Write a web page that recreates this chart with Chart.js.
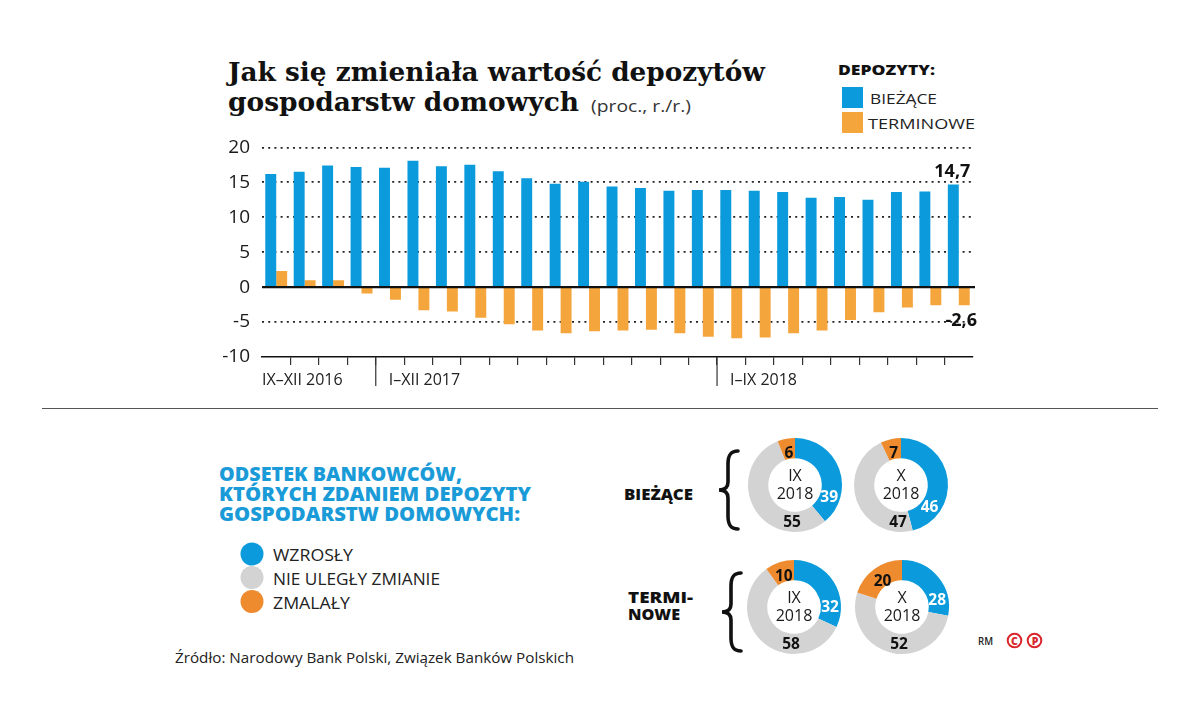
<!DOCTYPE html>
<html lang="pl">
<head>
<meta charset="utf-8">
<script src="https://cdn.jsdelivr.net/npm/chart.js@4.4.1/dist/chart.umd.min.js"></script>
<style>
html,body{margin:0;padding:0;background:#fff;}
#page{position:relative;width:1200px;height:718px;overflow:hidden;background:#fff;}
#page svg{position:absolute;left:0;top:0;}
canvas{position:absolute;}
</style>
</head>
<body>
<div id="page">
<svg width="1200" height="718" xmlns="http://www.w3.org/2000/svg">
  <g fill="#111">
    <text x="228" y="81" font-family="DejaVu Serif" font-weight="700" font-size="25.5" textLength="537" lengthAdjust="spacingAndGlyphs">Jak się zmieniała wartość depozytów</text>
    <text x="228" y="111" font-family="DejaVu Serif" font-weight="700" font-size="25.5" textLength="351" lengthAdjust="spacingAndGlyphs">gospodarstw domowych</text>
    <text x="591" y="112" font-family="Open Sans" font-size="17" fill="#333" textLength="100" lengthAdjust="spacingAndGlyphs">(proc., r./r.)</text>

    <text x="838" y="75" font-family="Open Sans" font-weight="800" font-size="14.5" textLength="97" lengthAdjust="spacingAndGlyphs">DEPOZYTY:</text>
    <rect x="842" y="87" width="21" height="21" fill="#0b9bdc"/>
    <rect x="842" y="112" width="21" height="21" fill="#f4a53c"/>
    <text x="870" y="104" font-family="Open Sans" font-size="15" fill="#222" textLength="67" lengthAdjust="spacingAndGlyphs">BIEŻĄCE</text>
    <text x="868" y="129" font-family="Open Sans" font-size="15" fill="#222" textLength="107" lengthAdjust="spacingAndGlyphs">TERMINOWE</text>
  </g>

  <line x1="42" y1="408.5" x2="1158" y2="408.5" stroke="#555" stroke-width="1"/>

  <g fill="#1a9bd8" font-family="Open Sans" font-weight="800" font-size="19.5">
    <text x="219" y="481" textLength="243" lengthAdjust="spacingAndGlyphs">ODSETEK BANKOWCÓW,</text>
    <text x="219" y="501" textLength="312" lengthAdjust="spacingAndGlyphs">KTÓRYCH ZDANIEM DEPOZYTY</text>
    <text x="219" y="521" textLength="301" lengthAdjust="spacingAndGlyphs">GOSPODARSTW DOMOWYCH:</text>
  </g>

  <circle cx="252" cy="554" r="11.5" fill="#0b9bdc"/>
  <circle cx="252" cy="577.5" r="11.5" fill="#d3d3d3"/>
  <circle cx="252" cy="601.5" r="11.5" fill="#ee8b2e"/>
  <g fill="#222" font-family="Open Sans" font-size="16">
    <text x="273" y="561" textLength="80" lengthAdjust="spacingAndGlyphs">WZROSŁY</text>
    <text x="273" y="585" textLength="167" lengthAdjust="spacingAndGlyphs">NIE ULEGŁY ZMIANIE</text>
    <text x="273" y="608.5" textLength="77" lengthAdjust="spacingAndGlyphs">ZMALAŁY</text>
  </g>

  <text x="175" y="663" font-family="Open Sans" font-size="15" fill="#222" textLength="399" lengthAdjust="spacingAndGlyphs">Źródło: Narodowy Bank Polski, Związek Banków Polskich</text>

  <g fill="#111" font-family="Open Sans" font-weight="800" font-size="15">
    <text x="624" y="500" textLength="69" lengthAdjust="spacingAndGlyphs">BIEŻĄCE</text>
    <text x="628" y="603" textLength="65" lengthAdjust="spacingAndGlyphs">TERMI-</text>
    <text x="628" y="620" textLength="52" lengthAdjust="spacingAndGlyphs">NOWE</text>
  </g>

  <g fill="none" stroke="#111" stroke-width="3.6" stroke-linecap="round">
    <path d="M 738 451 C 730 451, 728 456, 728 464 L 728 482 C 728 487, 725 490, 719 490 C 725 490, 728 493, 728 498 L 728 516 C 728 524, 730 529, 738 529"/>
    <path d="M 741 573 C 733 573, 731 578, 731 586 L 731 604 C 731 609, 728 612, 722 612 C 728 612, 731 615, 731 620 L 731 638 C 731 646, 733 651, 741 651"/>
  </g>

  <text x="978" y="645" font-family="Open Sans" font-weight="600" font-size="10.5" fill="#222" textLength="15" lengthAdjust="spacingAndGlyphs">RM</text>
  <circle cx="1014.5" cy="640.5" r="6.8" fill="none" stroke="#d9252b" stroke-width="2"/>
  <text x="1014.5" y="644.5" text-anchor="middle" font-family="Open Sans" font-weight="800" font-size="10.5" fill="#d9252b">C</text>
  <circle cx="1034.5" cy="640.5" r="6.8" fill="none" stroke="#d9252b" stroke-width="2"/>
  <text x="1035" y="644.5" text-anchor="middle" font-family="Open Sans" font-weight="800" font-size="10.5" fill="#d9252b">P</text>
</svg>

<canvas id="bars" width="800" height="277" style="left:200px;top:124px;width:800px;height:277px"></canvas>
<canvas id="d1" width="110" height="110" style="left:740px;top:430px;width:110px;height:110px"></canvas>
<canvas id="d2" width="110" height="110" style="left:846px;top:430px;width:110px;height:110px"></canvas>
<canvas id="d3" width="110" height="110" style="left:739px;top:552px;width:110px;height:110px"></canvas>
<canvas id="d4" width="110" height="110" style="left:847px;top:552px;width:110px;height:110px"></canvas>
</div>

<script>
// ---- DATA ----
const months = ['IX 2016','X 2016','XI 2016','XII 2016',
  'I 2017','II 2017','III 2017','IV 2017','V 2017','VI 2017','VII 2017','VIII 2017','IX 2017','X 2017','XI 2017','XII 2017',
  'I 2018','II 2018','III 2018','IV 2018','V 2018','VI 2018','VII 2018','VIII 2018','IX 2018'];
const biezace = [16.2,16.5,17.4,17.2,17.1,18.1,17.3,17.5,16.6,15.6,14.8,15.1,14.4,14.2,13.8,13.9,13.9,13.8,13.6,12.8,12.9,12.5,13.6,13.7,14.7];
const terminowe = [2.3,1.0,1.0,-0.9,-1.8,-3.3,-3.5,-4.4,-5.3,-6.2,-6.6,-6.3,-6.2,-6.1,-6.6,-7.1,-7.3,-7.2,-6.6,-6.2,-4.7,-3.6,-2.9,-2.6,-2.6];
const seriesNames = ['BIEŻĄCE','TERMINOWE'];
const periodLabels = ['IX–XII 2016','I–XII 2017','I–IX 2018'];
const periodStarts = [0, 4, 16];
const yMin = -10, yMax = 20, yStep = 5;

const surveyCategories = ['WZROSŁY','NIE ULEGŁY ZMIANIE','ZMALAŁY'];
const surveyPeriods = ['IX 2018','X 2018'];
const biezaceIX = [39, 55, 6];
const biezaceX = [46, 47, 7];
const termIX = [32, 58, 10];
const termX = [28, 52, 20];

// ---- STYLE ----
const BLUE = '#0b9bdc', ORANGE = '#f4a53c';
const DONUT_COLORS = ['#0b9bdc', '#d3d3d3', '#ee8b2e'];
const FONT = "'Open Sans', 'Noto Sans', sans-serif";
Chart.defaults.font.family = FONT;

const fmt = v => String(v).replace('.', ',');

const barDecor = {
  id: 'barDecor',
  afterDatasetsDraw(chart) {
    const {ctx, chartArea: a, scales: {x, y}} = chart;
    ctx.save();
    // zero line
    const y0 = y.getPixelForValue(0);
    ctx.strokeStyle = '#111';
    ctx.lineWidth = 2.4;
    ctx.beginPath(); ctx.moveTo(a.left, y0); ctx.lineTo(a.right + 2, y0); ctx.stroke();

    // period separators + labels
    ctx.lineWidth = 1.2;
    ctx.strokeStyle = '#333';
    ctx.fillStyle = '#222';
    ctx.font = "16px " + FONT;
    ctx.textBaseline = 'alphabetic';
    ctx.textAlign = 'left';
    periodStarts.forEach((s, k) => {
      let xs;
      if (s === 0) {
        xs = a.left;
      } else {
        xs = (x.getPixelForValue(s - 1) + x.getPixelForValue(s)) / 2;
        ctx.beginPath(); ctx.moveTo(xs, a.bottom); ctx.lineTo(xs, a.bottom + 29); ctx.stroke();
        xs += 13;
      }
      ctx.fillText(periodLabels[k], xs, a.bottom + 28);
    });

    // value labels of the last month
    const n = months.length - 1;
    const b = chart.getDatasetMeta(0).data[n];
    const o = chart.getDatasetMeta(1).data[n];
    ctx.font = "bold 18px " + FONT;
    ctx.fillStyle = '#111';
    ctx.textAlign = 'center';
    ctx.textBaseline = 'bottom';
    ctx.fillText(fmt(biezace[n]), b.x - 1, b.y - 4);
    ctx.textBaseline = 'top';
    ctx.fillText(fmt(terminowe[n]), o.x - 3, o.y + 7);
    ctx.restore();
  }
};

new Chart(document.getElementById('bars'), {
  type: 'bar',
  data: {
    labels: months,
    datasets: [
      { label: seriesNames[0], data: biezace, backgroundColor: BLUE },
      { label: seriesNames[1], data: terminowe, backgroundColor: ORANGE }
    ]
  },
  options: {
    responsive: false,
    animation: false,
    datasets: { bar: { barPercentage: 1.0, categoryPercentage: 0.77, borderWidth: 0 } },
    layout: { padding: { top: 0, right: 27, left: 0, bottom: 0 } },
    plugins: { legend: { display: false }, tooltip: { enabled: false } },
    scales: {
      x: {
        afterFit: s => { s.height = 44; },
        ticks: { display: false },
        grid: {
          offset: true,
          drawOnChartArea: false,
          drawTicks: true,
          tickLength: 8,
          lineWidth: 1.2,
          color: c => (c.type !== 'tick' || c.index === 0) ? 'rgba(0,0,0,0)' : '#333'
        },
        border: { display: true, color: '#111', width: 1.6 }
      },
      y: {
        min: yMin, max: yMax,
        afterFit: s => { s.width = 62; },
        ticks: { stepSize: yStep, padding: 12, color: '#1a1a1a', font: { size: 19 } },
        grid: {
          drawTicks: false,
          lineWidth: 1.7,
          color: c => (c.tick && (c.tick.value === 0 || c.tick.value === yMin)) ? 'rgba(0,0,0,0)' : '#222'
        },
        border: { display: false, dash: [2, 4.2] }
      }
    }
  },
  plugins: [barDecor]
});

function donut(id, values, period) {
  const labelPlugin = {
    id: 'donutText',
    afterDatasetsDraw(chart) {
      const ctx = chart.ctx;
      const arcs = chart.getDatasetMeta(0).data;
      ctx.save();
      ctx.textAlign = 'center';
      ctx.textBaseline = 'middle';
      ctx.font = "bold 15.5px " + FONT;
      let cx = 0, cy = 0;
      arcs.forEach((arc, i) => {
        const p = arc.getProps(['x', 'y', 'startAngle', 'endAngle'], true);
        cx = p.x; cy = p.y;
        let ang, r, col;
        if (i === 0) { ang = p.startAngle + 0.77 * (p.endAngle - p.startAngle); r = 36; col = '#fff'; }
        else if (i === 1) { ang = Math.PI / 2 + 0.08; r = 37; col = '#111'; }
        else { ang = (p.startAngle + p.endAngle) / 2; r = 33; col = '#111'; }
        ctx.fillStyle = col;
        ctx.fillText(String(values[i]), cx + r * Math.cos(ang), cy + r * Math.sin(ang) + 1);
      });
      const parts = period.split(' ');
      ctx.fillStyle = '#1a1a1a';
      ctx.font = "16px " + FONT;
      ctx.textBaseline = 'alphabetic';
      ctx.fillText(parts[0], cx, cy - 4.5);
      ctx.fillText(parts[1], cx, cy + 13.5);
      ctx.restore();
    }
  };
  new Chart(document.getElementById(id), {
    type: 'doughnut',
    data: { labels: surveyCategories, datasets: [{ data: values, backgroundColor: DONUT_COLORS, borderWidth: 0 }] },
    options: {
      responsive: false,
      animation: false,
      cutout: '57%',
      layout: { padding: 8 },
      plugins: { legend: { display: false }, tooltip: { enabled: false } }
    },
    plugins: [labelPlugin]
  });
}
donut('d1', biezaceIX, surveyPeriods[0]);
donut('d2', biezaceX, surveyPeriods[1]);
donut('d3', termIX, surveyPeriods[0]);
donut('d4', termX, surveyPeriods[1]);
</script>
</body>
</html>
